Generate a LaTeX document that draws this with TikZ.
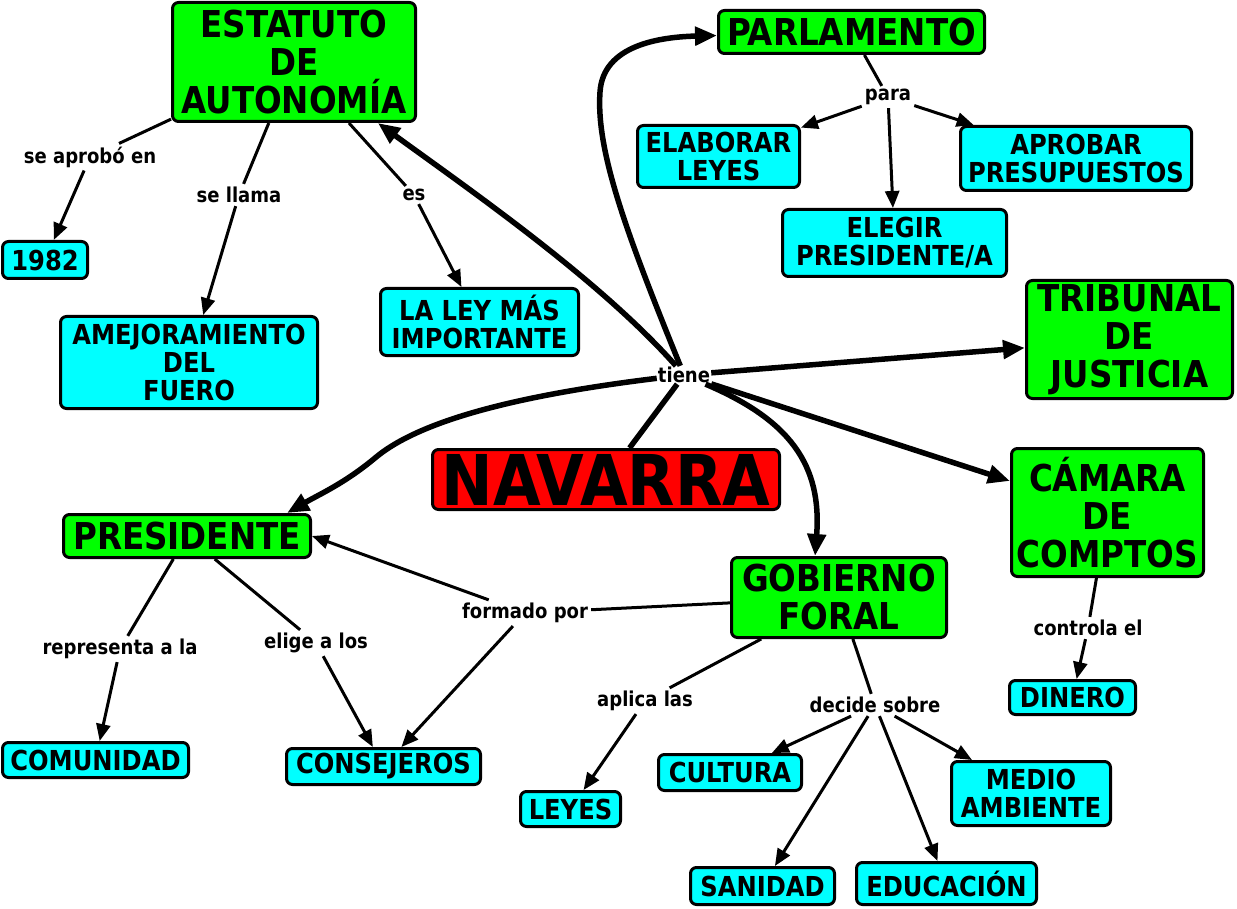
\documentclass[tikz,border=0pt]{standalone}
\usepackage{fontspec}
\newfontfamily\cmapfont{DejaVu Sans}[FakeStretch=0.88]
\usetikzlibrary{arrows.meta, calc}
\definecolor{cgreen}{RGB}{0,255,0}
\definecolor{ccyan}{RGB}{0,255,255}
\definecolor{cred}{RGB}{255,0,0}

\begin{document}
\begin{tikzpicture}[
  x=1pt, y=-1pt,
  concept/.style={draw, line width=3pt, rounded corners=6pt, align=center, inner sep=0pt},
  big/.style={concept, fill=cgreen, font=\cmapfont\bfseries\fontsize{37}{38}\selectfont},
  small/.style={concept, fill=ccyan, font=\cmapfont\bfseries\fontsize{27.5}{28}\selectfont},
  link/.style={font=\cmapfont\bfseries\fontsize{20.5}{21}\selectfont, inner sep=3pt},
  light/.style={line width=3pt, >={Triangle[length=17pt, width=14pt]}},
  heavy/.style={line width=5.5pt, >={Triangle[length=22pt, width=18pt]}},
]
  \fill[white] (0,0) rectangle (1237,909);
  \useasboundingbox (0,0) rectangle (1237,909);

  \node[big,   minimum width=243pt, minimum height=119pt] (estatuto)   at (294,62)      {ESTATUTO\\DE\\AUTONOMÍA};
  \node[big,   minimum width=266pt, minimum height=43pt]  (parlamento) at (851.5,32)    {PARLAMENTO};
  \node[small, minimum width=162pt, minimum height=62pt]  (elaborar)   at (718.5,156.5) {ELABORAR\\LEYES};
  \node[small, minimum width=231pt, minimum height=64pt]  (aprobar)    at (1076,158.5)  {APROBAR\\PRESUPUESTOS};
  \node[small, minimum width=224pt, minimum height=67pt]  (elegir)     at (894.5,243)   {ELEGIR\\PRESIDENTE/A};
  \node[big,   minimum width=206pt, minimum height=118pt] (tribunal)   at (1129.5,339.5) {TRIBUNAL\\DE\\JUSTICIA};
  \node[small, minimum width=85pt,  minimum height=37pt]  (ano)        at (45,260)      {1982};
  \node[small, minimum width=257pt, minimum height=92pt]  (amejora)    at (189,362.5)   {AMEJORAMIENTO\\DEL\\FUERO};
  \node[small, minimum width=198pt, minimum height=67pt]  (laley)      at (479.5,322)   {LA LEY MÁS\\IMPORTANTE};
  \node[concept, fill=cred, font=\cmapfont\bfseries\fontsize{70}{72}\selectfont,
        minimum width=347pt, minimum height=60pt]          (navarra)    at (606,479.5)   {NAVARRA};
  \node[big,   minimum width=247pt, minimum height=43pt]  (presidente) at (187,536)     {PRESIDENTE};
  \node[big,   minimum width=215pt, minimum height=80pt]  (gobierno)   at (839,597.5)   {GOBIERNO\\FORAL};
  \node[big,   minimum width=192pt, minimum height=128pt] (camara)     at (1107.5,512.5) {CÁMARA\\DE\\COMPTOS};
  \node[small, minimum width=126pt, minimum height=34pt]  (dinero)     at (1072.5,697.5) {DINERO};
  \node[small, minimum width=186pt, minimum height=35pt]  (comunidad)  at (95.5,760)    {COMUNIDAD};
  \node[small, minimum width=194pt, minimum height=36pt]  (consejeros) at (383.5,766.5) {CONSEJEROS};
  \node[small, minimum width=100pt, minimum height=35pt]  (leyes)      at (570.5,809)   {LEYES};
  \node[small, minimum width=143pt, minimum height=36pt]  (cultura)    at (730,772.5)   {CULTURA};
  \node[small, minimum width=159pt, minimum height=64pt]  (medio)      at (1031,793.5)  {MEDIO\\AMBIENTE};
  \node[small, minimum width=144pt, minimum height=37pt]  (sanidad)    at (762.5,886)   {SANIDAD};
  \node[small, minimum width=180pt, minimum height=42pt]  (educacion)  at (946.5,883.5) {EDUCACIÓN};

  % linking phrases
  \node[link, inner sep=1pt] (tiene) at (684,375) {tiene};
  \node[link] (seaprobo)   at (90,157)  {se aprobó en};
  \node[link] (sellama)    at (239,195) {se llama};
  \node[link] (es)         at (414,195) {es};
  \node[link] (para)       at (888,97)  {para};
  \node[link] (formado)    at (525,613) {formado por};
  \node[link] (representa) at (120,649) {representa a la};
  \node[link] (elige)      at (316,643) {elige a los};
  \node[link] (aplica)     at (645,701) {aplica las};
  \node[link] (decide)     at (875,705) {decide sobre};
  \node[link] (controla)   at (1088,628) {controla el};

  % navarra tiene ...
  \draw[heavy] (navarra) -- (tiene);
  \draw[heavy, ->] (tiene) .. controls (600,280) and (470,190) .. (estatuto);
  \draw[heavy, ->] (tiene) .. controls (625,230) and (596,150) .. (600,92)
                           .. controls (603,45) and (660,37) .. (parlamento);
  \draw[heavy, ->] (tiene) -- (tribunal);
  \draw[heavy, ->] (tiene) -- (camara);
  \draw[heavy, ->] (tiene) .. controls (790,420) and (822,465) .. (gobierno.120);
  \draw[heavy, ->] (tiene) .. controls (520,395) and (420,420) .. (375,458)
                           .. controls (345,483) and (320,494) .. ($(presidente.north east)+(-25,0)$);

  % estatuto
  \draw[light]     (estatuto) -- (seaprobo);
  \draw[light, ->] (seaprobo) -- (ano);
  \draw[light]     (estatuto) -- (sellama);
  \draw[light, ->] (sellama) -- (amejora);
  \draw[light]     (estatuto) -- (es);
  \draw[light, ->] (es) -- (laley);

  % parlamento
  \draw[light]     (parlamento) -- (para);
  \draw[light, ->] (para) -- (elaborar);
  \draw[light, ->] (para) -- (elegir);
  \draw[light, ->] (para) -- (aprobar);

  % presidente
  \draw[light]     (presidente) -- (representa);
  \draw[light, ->] (representa) -- (comunidad);
  \draw[light]     (presidente) -- (elige);
  \draw[light, ->] (elige) -- (consejeros);

  % gobierno
  \draw[light]     (gobierno) -- (formado);
  \draw[light, ->] (formado) -- (presidente.east);
  \draw[light, ->] (formado) -- (consejeros);
  \draw[light]     (gobierno) -- (aplica);
  \draw[light, ->] (aplica) -- (leyes);
  \draw[light]     (gobierno) -- (decide);
  \draw[light, ->] (decide) -- (cultura);
  \draw[light, ->] (decide) -- (sanidad);
  \draw[light, ->] (decide) -- (educacion);
  \draw[light, ->] (decide) -- (medio);

  % camara
  \draw[light]     (camara) -- (controla);
  \draw[light, ->] (controla) -- (dinero);
\end{tikzpicture}
\end{document}
